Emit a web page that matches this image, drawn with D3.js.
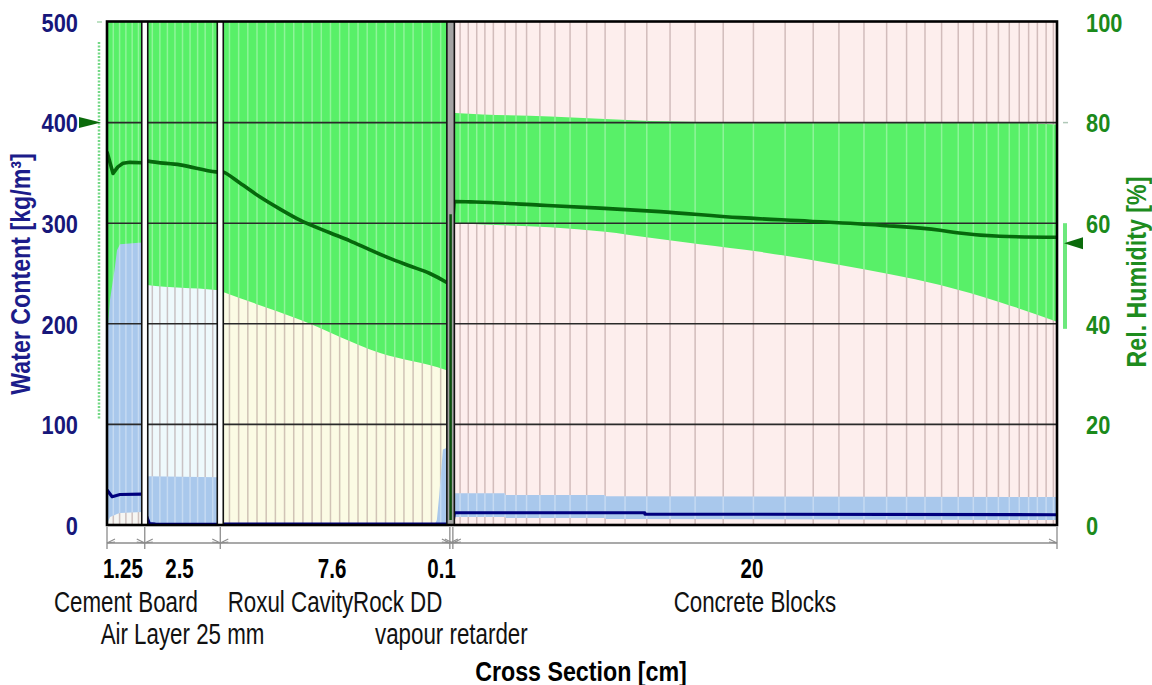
<!DOCTYPE html>
<html><head><meta charset="utf-8">
<script src="https://cdn.jsdelivr.net/npm/d3@7"></script>
<style>body{margin:0;background:#fff;} svg{display:block}</style>
</head><body>
<svg id="c" width="1152" height="685"></svg>
<script>
// ---------------- DATA ----------------
const layerThickness = [1.25, 2.5, 7.6, 0.1, 20];               // cm
const thicknessLabels = ["1.25", "2.5", "7.6", "0.1", "20"];
const materialNames = ["Cement Board", "Air Layer 25 mm", "Roxul CavityRock DD", "vapour retarder", "Concrete Blocks"];
const nameRows = [0, 1, 0, 1, 0];
const leftTicks = [0, 100, 200, 300, 400, 500];                // water content kg/m3
const rightTicks = [0, 20, 40, 60, 80, 100];                   // RH %
const gridLines = [100, 200, 300, 400];

// numerical grid: cell counts for uniform layers, explicit (relative cm) for concrete
const gridCells = [6, 10, 25, 0];
const concreteGrid = [0.24,0.51,0.79,1.06,1.34,1.73,2.09,2.44,2.88,3.38,3.88,4.43,5.04,5.70,6.42,7.19,8.02,8.95,9.95,11.00,11.93,12.78,13.61,14.36,15.02,15.63,16.18,16.73,17.23,17.67,18.06,18.42,18.75,19.06,19.35,19.64,19.88];

// Relative humidity, current profile [cm, %]
const rhCement = [[0,74.2],[0.2,69.9],[0.36,71.2],[0.53,71.9],[0.76,72.1],[1.25,72.0]];
const rhAir = [[1.25,72.5],[1.32,72.4],[2.42,71.6],[3.61,70.2],[3.75,70.1]];
const rhRoxul = [[3.75,70.4],[3.84,70.2],[4.40,68.0],[5.07,65.2],[5.73,62.8],[6.39,60.6],[7.38,58.1],[8.04,56.5],[8.71,54.7],[9.37,53.0],[10.03,51.5],[10.69,50.0],[11.22,48.3],[11.35,47.8]];
const rhConcrete = [[11.45,60.5],[11.50,64.2],[11.52,64.3],[12.2,64.2],[14.33,63.6],[16.32,63.0],[18.31,62.3],[20.96,61.1],[23.27,60.4],[25.59,59.6],[27.58,58.6],[28.14,58.1],[29.56,57.4],[31.45,57.2]];

// RH envelope (min / max over time) [cm, min, max]
const rhRangeCement = [[0,38,100],[1.25,38,100]];
const rhRangeAir = [[1.25,47.8,100],[1.32,47.7,100],[3.61,46.7,100],[3.75,46.6,100]];
const rhRangeRoxul = [[3.75,46.5,100],[3.84,46.3,100],[6.39,40.8,100],[9.04,34.2,100],[11.22,30.8,100],[11.35,30.5,100]];
const rhRangeConcrete = [[11.45,60.2,82.0],[11.52,60.1,81.9],[14.67,59.2,81.2],[16.49,58.3,80.7],[17.98,57.1,80.3],[19.63,55.8,80.1],[21.62,54.3,80.0],[24.27,51.7,80.0],[27.58,47.7,80.0],[29.56,44.3,80.0],[31.45,40.4,79.6]];

// Water content envelope [cm, min, max] kg/m3
const wcRangeCement = [[0,0,185],[0.02,2,194],[0.10,8,224],[0.26,10,256],[0.33,11,273],[0.43,12,279],[1.25,13,281]];
const wcRangeAir = [[1.25,0,48.5],[3.75,0,47.5]];
const wcRangeRoxul = [[3.75,0,0.5],[10.85,0,0.5],[10.92,0,5],[11.0,0,30],[11.12,0,75],[11.35,0,78]];
const wcRangeConcrete = [[11.45,8,31.5],[13.18,8,31.5],[13.19,7,29.8],[16.49,7,29.8],[16.5,6,28.6],[31.45,5,27.8]];

// Water content, current profile [cm, kg/m3]
const wcCement = [[0,34.8],[0.17,28.1],[0.43,30.3],[1.25,30.8]];
const wcAir = [[1.25,9],[1.32,8],[1.40,1.5],[1.6,0.8],[3.75,0.6]];
const wcRoxul = [[3.75,0.8],[11.35,0.8]];
const wcConcrete = [[11.45,2],[11.5,12.2],[17.8,12.2],[17.81,10.9],[31.45,10.2]];

// boundary conditions (RH %)
const leftRH = 80, leftRHRange = [21, 96];
const rightRH = 56, rightRHRange = [39, 60];

// ---------------- DRAW ----------------
const svg = d3.select('#c');
const L = 107, R = 1057, T = 22, B = 525;
const FONT = '"Liberation Sans", Arial, Helvetica, sans-serif';
const total = d3.sum(layerThickness);
const bounds = [0, ...d3.cumsum(layerThickness)];
const x = d3.scaleLinear().domain([0, total]).range([L, R]);
const yL = d3.scaleLinear().domain([0, 500]).range([B, T]);
const yR = d3.scaleLinear().domain([0, 100]).range([B, T]);
const xb = bounds.map(x);

const GREEN = '#58f068', BLUE = '#a9c8ec';
const bgColors = ['#f6f6f3', '#eef9fc', '#fbfbe4', '#a0a0a0', '#fdeeed'];
const rhLines = [rhCement, rhAir, rhRoxul, null, rhConcrete];
const rhRanges = [rhRangeCement, rhRangeAir, rhRangeRoxul, null, rhRangeConcrete];
const wcRanges = [wcRangeCement, wcRangeAir, wcRangeRoxul, null, wcRangeConcrete];
const wcLines = [wcCement, wcAir, wcRoxul, null, wcConcrete];

const rects = [[xb[0], xb[1]-3], [xb[1]+3, xb[2]-3], [xb[2]+3, xb[3]-3], [xb[3]-3, xb[4]+1.5], [xb[4]+1.5, xb[5]]];

const rhArea = d3.area().x(d => x(d[0])).y0(d => yR(d[1])).y1(d => yR(d[2])).curve(d3.curveMonotoneX);
const wcArea = d3.area().x(d => x(d[0])).y0(d => yL(d[1])).y1(d => yL(d[2]));
const rhLineSmooth = d3.line().x(d => x(d[0])).y(d => yR(d[1])).curve(d3.curveMonotoneX);
const rhLineSharp = d3.line().x(d => x(d[0])).y(d => yR(d[1]));
const wcLineGen = d3.line().x(d => x(d[0])).y(d => yL(d[1]));

const defs = svg.append('defs');

layerThickness.forEach((th, i) => {
  const [x0, x1] = rects[i];
  if (i === 3) return;
  defs.append('clipPath').attr('id', 'lc' + i).append('rect')
    .attr('x', x0).attr('y', T).attr('width', x1 - x0).attr('height', B - T);
  const fc = defs.append('clipPath').attr('id', 'fc' + i);
  fc.append('path').attr('d', rhArea(rhRanges[i]));
  fc.append('path').attr('d', wcArea(wcRanges[i]));

  const g = svg.append('g').attr('clip-path', `url(#lc${i})`);
  g.append('rect').attr('x', x0).attr('y', T).attr('width', x1 - x0).attr('height', B - T).attr('fill', bgColors[i]);

  const stripes = i === 4 ? concreteGrid.map(d => bounds[4] + d)
    : d3.range(1, gridCells[i]).map(k => bounds[i] + k * th / gridCells[i]);

  g.selectAll('line.s').data(stripes).join('line')
    .attr('x1', d => x(d)).attr('x2', d => x(d)).attr('y1', T).attr('y2', B)
    .attr('stroke', 'rgba(150,120,120,0.42)').attr('stroke-width', 1.5);

  g.append('path').attr('d', rhArea(rhRanges[i])).attr('fill', GREEN);
  g.append('path').attr('d', wcArea(wcRanges[i])).attr('fill', BLUE);

  g.append('g').attr('clip-path', `url(#fc${i})`).selectAll('line').data(stripes).join('line')
    .attr('x1', d => x(d)).attr('x2', d => x(d)).attr('y1', T).attr('y2', B)
    .attr('stroke', 'rgba(255,255,255,0.33)').attr('stroke-width', 1.5);

  g.selectAll('line.h').data(gridLines).join('line')
    .attr('x1', x0).attr('x2', x1).attr('y1', d => yL(d)).attr('y2', d => yL(d))
    .attr('stroke', '#2a2a2a').attr('stroke-width', 1.6);

  g.append('path').attr('d', wcLineGen(wcLines[i])).attr('fill', 'none')
    .attr('stroke', '#00007e').attr('stroke-width', 3.2).attr('stroke-linejoin', 'round');
  g.append('path').attr('d', (i === 0 ? rhLineSharp : rhLineSmooth)(rhLines[i])).attr('fill', 'none')
    .attr('stroke', '#06680c').attr('stroke-width', 3.6).attr('stroke-linejoin', 'round');
});

// vapour retarder
{
  const [x0, x1] = rects[3];
  svg.append('rect').attr('x', x0).attr('y', T).attr('width', x1 - x0).attr('height', B - T).attr('fill', '#a3a3a3');
  const xm = (x0 + x1) / 2;
  svg.append('line').attr('x1', xm).attr('x2', xm)
    .attr('y1', yR(rhRoxul[rhRoxul.length-1][1] + 14)).attr('y2', yR(1))
    .attr('stroke', '#0b4f0e').attr('stroke-width', 2.5);
}

// layer edges
const edges = [rects[0][1], rects[1][0], rects[1][1], rects[2][0], rects[2][1], rects[4][0]];
svg.selectAll('line.edge').data(edges).join('line')
  .attr('x1', d => d).attr('x2', d => d).attr('y1', T).attr('y2', B)
  .attr('stroke', '#111').attr('stroke-width', 1.6);

// outer border
svg.append('rect').attr('x', L).attr('y', T - 0.5).attr('width', R - L).attr('height', B - T + 0.5)
  .attr('fill', 'none').attr('stroke', '#000').attr('stroke-width', 2.6);

// text helper
function label(s, px, py, o = {}) {
  svg.append('text')
    .attr('transform', `translate(${px},${py}) rotate(${o.rot || 0}) scale(${o.sx || 0.86},1)`)
    .attr('text-anchor', o.anchor || 'middle')
    .attr('font-family', FONT).attr('font-size', o.size || 24)
    .attr('font-weight', o.weight || 'bold').attr('fill', o.fill || '#000')
    .text(s);
}

// left axis
const gL = svg.append('g').attr('transform', 'translate(78,0)')
  .call(d3.axisLeft(yL).tickValues(leftTicks).tickSize(0).tickPadding(0));
gL.select('.domain').remove();
gL.selectAll('text').attr('x', 0).attr('dy', '0.36em').attr('transform', 'scale(0.84,1)')
  .attr('text-anchor', 'end').attr('font-family', FONT).attr('font-size', 26)
  .attr('font-weight', 'bold').attr('fill', '#17177a');

// right axis
const gR = svg.append('g').attr('transform', 'translate(1086,0)')
  .call(d3.axisRight(yR).tickValues(rightTicks).tickSize(0).tickPadding(0));
gR.select('.domain').remove();
gR.selectAll('text').attr('x', 0).attr('dy', '0.36em').attr('transform', 'scale(0.84,1)')
  .attr('text-anchor', 'start').attr('font-family', FONT).attr('font-size', 26)
  .attr('font-weight', 'bold').attr('fill', '#1b8a1b');

// axis titles
label('Water Content [kg/m³]', 30, 274, { rot: -90, size: 27, sx: 0.86, fill: '#1c1c8a' });
label('Rel. Humidity [%]', 1146, 272, { rot: -90, size: 27, sx: 0.86, fill: '#1e8c1e' });

// boundary markers
svg.append('line').attr('x1', 99).attr('x2', 99).attr('y1', yR(leftRHRange[1])).attr('y2', yR(leftRHRange[0]))
  .attr('stroke', '#74d886').attr('stroke-width', 2.5).attr('stroke-dasharray', '2,1.5');
svg.append('line').attr('x1', 97).attr('x2', 102).attr('y1', yR(100)).attr('y2', yR(100)).attr('stroke', '#a8d8b0').attr('stroke-width', 1.5);
svg.append('path').attr('d', `M79,${yR(leftRH)-5.5}L79,${yR(leftRH)+5.5}L101,${yR(leftRH)}Z`).attr('fill', '#0b6b0b');

svg.append('rect').attr('x', 1063).attr('width', 4).attr('y', yR(rightRHRange[1])).attr('height', yR(rightRHRange[0]) - yR(rightRHRange[1]))
  .attr('fill', '#6ce87c');
svg.append('path').attr('d', `M1083,${yR(rightRH)-6}L1083,${yR(rightRH)+6}L1064,${yR(rightRH)}Z`).attr('fill', '#0b6b0b');
svg.append('line').attr('x1', 1063).attr('x2', 1068).attr('y1', yR(80)).attr('y2', yR(80)).attr('stroke', '#b0c8b8').attr('stroke-width', 1.5);

// dimension line
const dimY = 543;
svg.append('line').attr('x1', L).attr('x2', R).attr('y1', dimY).attr('y2', dimY).attr('stroke', '#8c8c8c').attr('stroke-width', 1.3);
svg.selectAll('line.dt').data(xb).join('line')
  .attr('x1', d => d).attr('x2', d => d).attr('y1', 527).attr('y2', 549)
  .attr('stroke', '#8c8c8c').attr('stroke-width', 1.3);
layerThickness.forEach((th, i) => {
  const a = xb[i], b = xb[i + 1];
  const p = `M${a + 8},${dimY - 4}L${a},${dimY}L${a + 8},${dimY - 1}` + `M${b - 8},${dimY - 4}L${b},${dimY}L${b - 8},${dimY - 1}`;
  svg.append('path').attr('d', p).attr('fill', 'none').attr('stroke', '#8c8c8c').attr('stroke-width', 1.1);
});

// thickness labels + material names
layerThickness.forEach((th, i) => {
  const c = (xb[i] + xb[i + 1]) / 2;
  if (xb[i + 1] - xb[i] < 20) {
    label(thicknessLabels[i], xb[i + 1] + 3, 578, { anchor: 'end', size: 27, sx: 0.76 });
  } else {
    label(thicknessLabels[i], c - 3, 578, { size: 27, sx: 0.76 });
  }
  label(materialNames[i], c, nameRows[i] === 0 ? 612 : 644, { size: 29, weight: 'normal', sx: 0.77, fill: '#111' });
});

label('Cross Section [cm]', 581, 681, { size: 28, sx: 0.83 });
</script>
</body></html>
